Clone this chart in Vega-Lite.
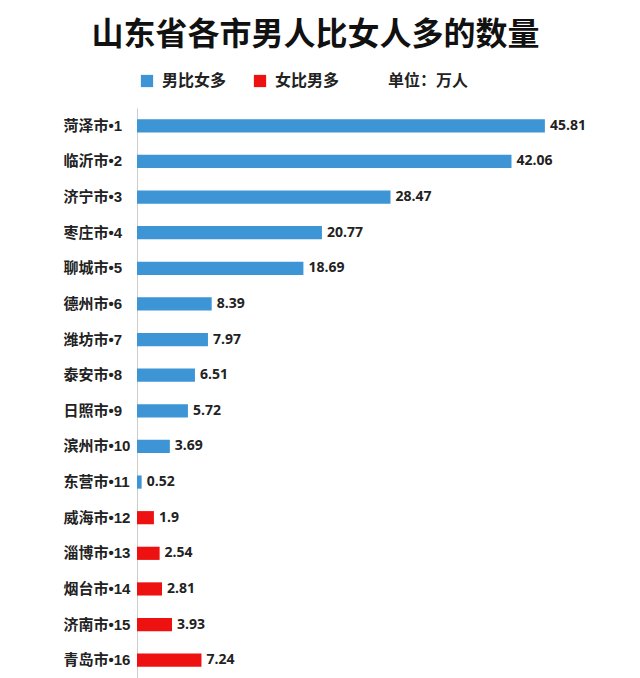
{
  "$schema": "https://vega.github.io/schema/vega-lite/v6.json",
  "width": 463,
  "height": 570,
  "autosize": "none",
  "padding": {"left": 137, "top": 108, "right": 40, "bottom": 0},
  "background": "white",
  "title": {
    "text": "山东省各市男人比女人多的数量",
    "font": "Noto Sans CJK SC",
    "fontSize": 32,
    "fontWeight": "bold",
    "color": "#111111",
    "anchor": "middle",
    "dx": -53,
    "offset": 21
  },
  "data": {
    "values": [
      {"city": "菏泽市•1", "value": 45.81, "type": "男比女多"},
      {"city": "临沂市•2", "value": 42.06, "type": "男比女多"},
      {"city": "济宁市•3", "value": 28.47, "type": "男比女多"},
      {"city": "枣庄市•4", "value": 20.77, "type": "男比女多"},
      {"city": "聊城市•5", "value": 18.69, "type": "男比女多"},
      {"city": "德州市•6", "value": 8.39, "type": "男比女多"},
      {"city": "潍坊市•7", "value": 7.97, "type": "男比女多"},
      {"city": "泰安市•8", "value": 6.51, "type": "男比女多"},
      {"city": "日照市•9", "value": 5.72, "type": "男比女多"},
      {"city": "滨州市•10", "value": 3.69, "type": "男比女多"},
      {"city": "东营市•11", "value": 0.52, "type": "男比女多"},
      {"city": "威海市•12", "value": 1.9, "type": "女比男多"},
      {"city": "淄博市•13", "value": 2.54, "type": "女比男多"},
      {"city": "烟台市•14", "value": 2.81, "type": "女比男多"},
      {"city": "济南市•15", "value": 3.93, "type": "女比男多"},
      {"city": "青岛市•16", "value": 7.24, "type": "女比男多"}
    ]
  },
  "encoding": {
    "y": {
      "field": "city",
      "type": "nominal",
      "sort": null,
      "scale": {"paddingInner": 0.63, "paddingOuter": 0.315},
      "axis": {
        "title": null,
        "ticks": false,
        "labelAlign": "left",
        "labelPadding": 74,
        "labelFont": "Liberation Sans, Noto Sans CJK SC",
        "labelFontSize": 15,
        "labelFontWeight": "bold",
        "labelColor": "#222222",
        "domainColor": "#cccccc",
        "domainWidth": 1
      }
    },
    "x": {
      "field": "value",
      "type": "quantitative",
      "scale": {"domain": [0, 52], "nice": false},
      "axis": null
    }
  },
  "layer": [
    {
      "mark": {"type": "bar"},
      "encoding": {
        "color": {
          "field": "type",
          "type": "nominal",
          "scale": {
            "domain": ["男比女多", "女比男多", "单位：万人"],
            "range": ["#3d95d5", "#ee1111", "transparent"]
          },
          "legend": {
            "title": null,
            "orient": "none",
            "direction": "horizontal",
            "legendX": 2,
            "legendY": -35,
            "padding": 0,
            "symbolType": "square",
            "symbolSize": 150,
            "symbolStrokeWidth": 0,
            "labelFont": "Noto Sans CJK SC",
            "labelFontSize": 16,
            "labelFontWeight": "bold",
            "labelColor": "#222222",
            "labelOffset": 7,
            "columnPadding": 25,
            "labelLimit": 200,
            "labelExpr": "datum.label == '单位：万人' ? '\u00a0\u00a0\u00a0\u00a0单位：万人' : datum.label"
          }
        }
      }
    },
    {
      "mark": {
        "type": "text",
        "align": "left",
        "baseline": "middle",
        "dx": 5,
        "font": "Open Sans",
        "fontSize": 14,
        "fontWeight": "bold",
        "color": "#222222"
      },
      "encoding": {
        "text": {"field": "value", "type": "quantitative"}
      }
    }
  ],
  "config": {"view": {"stroke": null}}
}
